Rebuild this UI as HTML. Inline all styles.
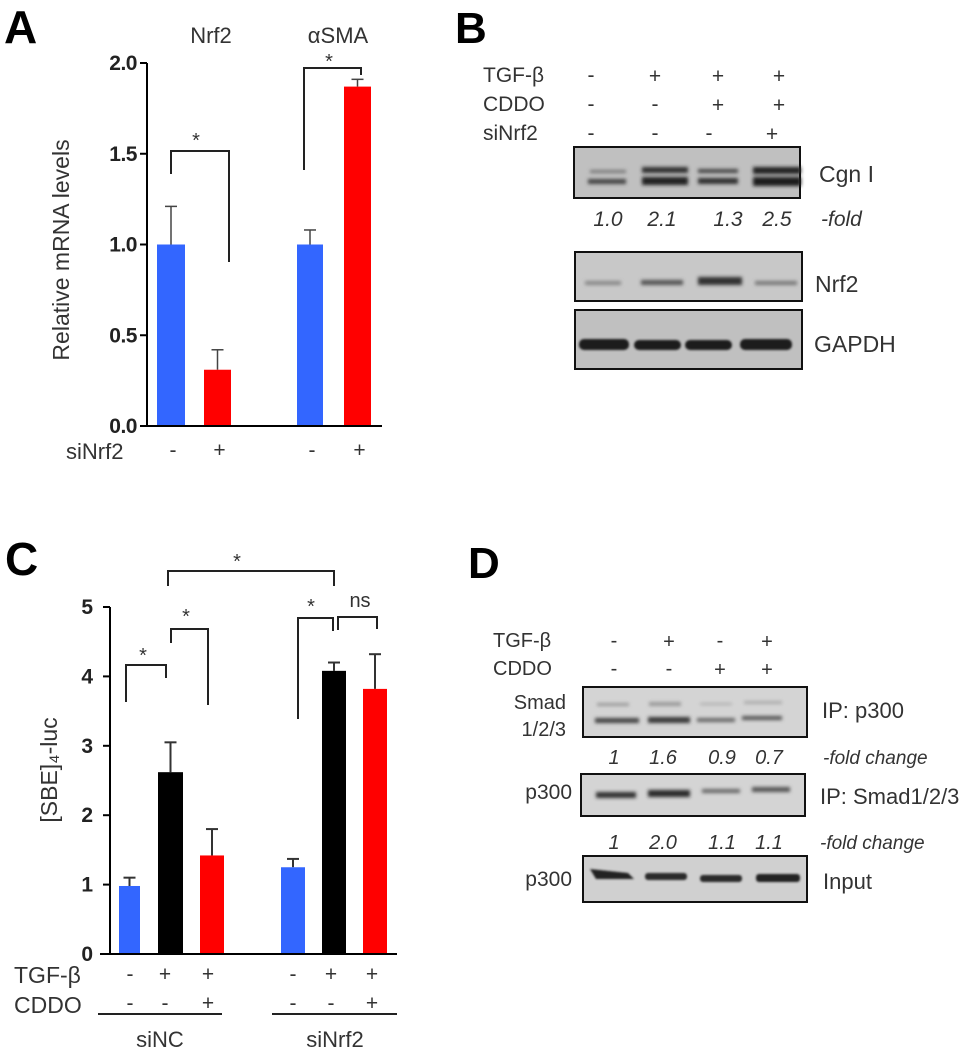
<!DOCTYPE html>
<html><head><meta charset="utf-8">
<style>
html,body{margin:0;padding:0;background:#fff;}
svg{display:block;font-family:"Liberation Sans",Arial,sans-serif;}
</style></head>
<body>
<svg id="fig" width="979" height="1050" viewBox="0 0 979 1050" xmlns="http://www.w3.org/2000/svg">
<defs>
<filter id="blur1" filterUnits="userSpaceOnUse" x="0" y="0" width="979" height="1050"><feGaussianBlur stdDeviation="1.8"/></filter>
<filter id="blur2" filterUnits="userSpaceOnUse" x="0" y="0" width="979" height="1050"><feGaussianBlur stdDeviation="1.1"/></filter>
</defs>

<text x="4" y="43" font-size="46" font-weight="bold" fill="#000">A</text>
<text x="455" y="43" font-size="44" font-weight="bold" fill="#000">B</text>
<text x="5" y="575" font-size="46" font-weight="bold" fill="#000">C</text>
<text x="468" y="578" font-size="44" font-weight="bold" fill="#000">D</text>

<g id="chartA"></g>
<g id="chartC"></g>

<!-- Panel B -->
<g id="panelB" font-size="21" fill="#333">
  <text x="483" y="82">TGF-β</text>
  <text x="483" y="111">CDDO</text>
  <text x="483" y="140">siNrf2</text>
  <g text-anchor="middle" font-size="21">
    <text x="591" y="82">-</text><text x="655" y="83">+</text><text x="718" y="83">+</text><text x="779" y="83">+</text>
    <text x="591" y="111">-</text><text x="655" y="111">-</text><text x="718" y="112">+</text><text x="779" y="112">+</text>
    <text x="591" y="140">-</text><text x="655" y="140">-</text><text x="709" y="140">-</text><text x="772" y="141">+</text>
  </g>
  <rect x="574" y="147" width="226" height="51" fill="#c0c0c0" stroke="#111" stroke-width="2"/>
  <g filter="url(#blur1)">
    <rect x="590" y="170" width="36" height="3" fill="#777"/>
    <rect x="588" y="179" width="38" height="5" fill="#444"/>
    <rect x="642" y="167" width="46" height="6" fill="#333"/>
    <rect x="642" y="177" width="46" height="8" fill="#222"/>
    <rect x="698" y="169" width="40" height="4" fill="#444"/>
    <rect x="698" y="178" width="40" height="6" fill="#333"/>
    <rect x="753" y="167" width="48" height="7" fill="#222"/>
    <rect x="753" y="177" width="48" height="9" fill="#1a1a1a"/>
  </g>
  <text x="819" y="182" font-size="23">Cgn I</text>
  <g font-size="21" font-style="italic" text-anchor="middle">
    <text x="608" y="226">1.0</text><text x="662" y="226">2.1</text><text x="728" y="226">1.3</text><text x="777" y="226">2.5</text>
  </g>
  <text x="821" y="226" font-size="21" font-style="italic">-fold</text>
  <rect x="575" y="252" width="227" height="49" fill="#c8c8c8" stroke="#111" stroke-width="2"/>
  <g filter="url(#blur1)">
    <rect x="585" y="281" width="36" height="4" fill="#888"/>
    <rect x="641" y="280" width="42" height="5" fill="#555"/>
    <rect x="698" y="277" width="44" height="8" fill="#333"/>
    <rect x="755" y="281" width="42" height="4" fill="#777"/>
  </g>
  <text x="815" y="292" font-size="23">Nrf2</text>
  <rect x="575" y="310" width="227" height="59" fill="#c0c0c0" stroke="#111" stroke-width="2"/>
  <g filter="url(#blur2)">
    <rect x="579" y="339" width="50" height="11" rx="5" fill="#1a1a1a"/>
    <rect x="634" y="340" width="47" height="10" rx="5" fill="#1e1e1e"/>
    <rect x="685" y="340" width="47" height="10" rx="5" fill="#1e1e1e"/>
    <rect x="740" y="339" width="52" height="11" rx="5" fill="#1a1a1a"/>
  </g>
  <text x="814" y="352" font-size="23">GAPDH</text>
</g>

<!-- Panel D -->
<g id="panelD" font-size="20" fill="#333">
  <text x="493" y="647">TGF-β</text>
  <text x="493" y="675">CDDO</text>
  <g text-anchor="middle" font-size="20">
    <text x="614" y="647">-</text><text x="669" y="648">+</text><text x="720" y="647">-</text><text x="767" y="648">+</text>
    <text x="614" y="675">-</text><text x="669" y="675">-</text><text x="720" y="676">+</text><text x="767" y="676">+</text>
  </g>
  <text x="566" y="709" text-anchor="end">Smad</text>
  <text x="566" y="736" text-anchor="end">1/2/3</text>
  <rect x="583" y="687" width="224" height="50" fill="#d4d4d4" stroke="#111" stroke-width="2"/>
  <g filter="url(#blur1)">
    <rect x="597" y="703" width="32" height="3" fill="#999"/>
    <rect x="649" y="702" width="32" height="4" fill="#999"/>
    <rect x="700" y="703" width="32" height="2" fill="#aaa"/>
    <rect x="744" y="701" width="38" height="3" fill="#aaa"/>
    <rect x="595" y="718" width="44" height="5" fill="#444"/>
    <rect x="648" y="717" width="42" height="6" fill="#3a3a3a"/>
    <rect x="697" y="718" width="38" height="4" fill="#666"/>
    <rect x="742" y="716" width="40" height="4" fill="#555"/>
  </g>
  <text x="822" y="718" font-size="22">IP:  p300</text>
  <g font-size="20" font-style="italic" text-anchor="middle">
    <text x="614" y="764">1</text><text x="663" y="764">1.6</text><text x="722" y="764">0.9</text><text x="769" y="764">0.7</text>
  </g>
  <text x="823" y="764" font-size="19" font-style="italic">-fold change</text>
  <text x="572" y="799" text-anchor="end" font-size="21">p300</text>
  <rect x="581" y="774" width="224" height="42" fill="#d4d4d4" stroke="#111" stroke-width="2"/>
  <g filter="url(#blur1)">
    <rect x="596" y="792" width="40" height="6" fill="#333"/>
    <rect x="648" y="790" width="42" height="7" fill="#2a2a2a"/>
    <rect x="702" y="789" width="38" height="4" fill="#666"/>
    <rect x="752" y="787" width="38" height="5" fill="#555"/>
  </g>
  <text x="820" y="804" font-size="22">IP:  Smad1/2/3</text>
  <g font-size="20" font-style="italic" text-anchor="middle">
    <text x="614" y="849">1</text><text x="663" y="849">2.0</text><text x="722" y="849">1.1</text><text x="769" y="849">1.1</text>
  </g>
  <text x="820" y="849" font-size="19" font-style="italic">-fold change</text>
  <text x="572" y="886" text-anchor="end" font-size="21">p300</text>
  <rect x="583" y="856" width="224" height="46" fill="#d0d0d0" stroke="#111" stroke-width="2"/>
  <g filter="url(#blur2)">
    <polygon points="590,869 628,873 634,879 596,879" fill="#222"/>
    <rect x="645" y="873" width="42" height="7" rx="3" fill="#2a2a2a"/>
    <rect x="700" y="875" width="42" height="7" rx="3" fill="#2a2a2a"/>
    <rect x="756" y="874" width="44" height="8" rx="3" fill="#222"/>
  </g>
  <text x="823" y="889" font-size="22">Input</text>
</g>

<script>
// ---- Panel A data ----
var aCategories = ["Nrf2 -", "Nrf2 +", "αSMA -", "αSMA +"];
var aValues = [1.0, 0.31, 1.0, 1.87];
var aErrors = [0.21, 0.11, 0.08, 0.04];
var aTicks = [0.0, 0.5, 1.0, 1.5, 2.0];
var aTickLabels = ["0.0", "0.5", "1.0", "1.5", "2.0"];
var aSigns = ["-", "+", "-", "+"];

// ---- Panel C data ----
var cCategories = ["siNC ctrl", "siNC TGF", "siNC TGF+CDDO", "siNrf2 ctrl", "siNrf2 TGF", "siNrf2 TGF+CDDO"];
var cValues = [0.98, 2.62, 1.42, 1.25, 4.08, 3.82];
var cErrors = [0.12, 0.43, 0.38, 0.12, 0.12, 0.50];
var cTicks = [0, 1, 2, 3, 4, 5];
var cTgfSigns = ["-", "+", "+", "-", "+", "+"];
var cCddoSigns = ["-", "-", "+", "-", "-", "+"];

var NS = "http://www.w3.org/2000/svg";
function mk(parent, tag, attrs, txt) {
  var e = document.createElementNS(NS, tag);
  for (var k in attrs) e.setAttribute(k, attrs[k]);
  if (txt !== undefined) e.textContent = txt;
  parent.appendChild(e);
  return e;
}

// ---- Draw A ----
(function () {
  var g = document.getElementById("chartA");
  var y0 = 426, pxPerUnit = 181.5;
  function ya(v) { return y0 - v * pxPerUnit; }
  var barX = [157, 204, 297, 344], barW = [28, 27, 26, 27];
  var colors = ["#3366ff", "#ff0000", "#3366ff", "#ff0000"];
  var ax = mk(g, "line", {x1: 147, y1: ya(2.0), x2: 147, y2: y0, stroke: "#000", "stroke-width": 2});
  
  
  for (var i = 0; i < aTicks.length; i++) {
    mk(g, "line", {x1: 140, y1: ya(aTicks[i]), x2: 147, y2: ya(aTicks[i]), stroke: "#000", "stroke-width": 2});
    var t = mk(g, "text", {x: 137, y: ya(aTicks[i]) + 7, "text-anchor": "end", "font-size": 21, "font-weight": "bold", "letter-spacing": "-0.5", fill: "#222"}, aTickLabels[i]);
    
    
  }
  for (var j = 0; j < aValues.length; j++) {
    var cx = barX[j] + barW[j] / 2, top = ya(aValues[j] + aErrors[j]);
    mk(g, "line", {x1: cx, y1: ya(aValues[j]), x2: cx, y2: top, stroke: "#444", "stroke-width": 1.5});
    mk(g, "line", {x1: cx - 6, y1: top, x2: cx + 6, y2: top, stroke: "#444", "stroke-width": 1.5});
    var r = mk(g, "rect", {x: barX[j], y: ya(aValues[j]), width: barW[j], height: y0 - ya(aValues[j]), fill: colors[j]});
    
    
    var s = mk(g, "text", {x: cx + 2, y: 457, "text-anchor": "middle", "font-size": 21, fill: "#333"}, aSigns[j]);
    
    
  }
  var xa = mk(g, "line", {x1: 147, y1: y0, x2: 382, y2: y0, stroke: "#000", "stroke-width": 2});
  
  
  var yt = mk(g, "text", {x: 0, y: 0, transform: "translate(69,250) rotate(-90)", "text-anchor": "middle", "font-size": 23, fill: "#333"}, "Relative mRNA levels");
  
  
  var sl = mk(g, "text", {x: 66, y: 459, "font-size": 22, fill: "#333"}, "siNrf2");
  
  
  var h1 = mk(g, "text", {x: 211, y: 43, "text-anchor": "middle", "font-size": 22, fill: "#333"}, "Nrf2");
  
  
  var h2 = mk(g, "text", {x: 338, y: 43, "text-anchor": "middle", "font-size": 22, fill: "#333"}, "αSMA");
  
  
  var b1 = mk(g, "polyline", {points: "171,174 171,151 229,151 229,262", fill: "none", stroke: "#222", "stroke-width": 2});
  
  
  mk(g, "text", {x: 196, y: 147, "text-anchor": "middle", "font-size": 20, fill: "#333"}, "*");
  var b2 = mk(g, "polyline", {points: "304,170 304,68 361,68 361,75", fill: "none", stroke: "#222", "stroke-width": 2});
  
  
  mk(g, "text", {x: 329, y: 68, "text-anchor": "middle", "font-size": 20, fill: "#333"}, "*");
})();

// ---- Draw C ----
(function () {
  var g = document.getElementById("chartC");
  var y0 = 954, pxPerUnit = 69.4;
  function yc(v) { return y0 - v * pxPerUnit; }
  var barX = [119, 158, 200, 281, 322, 363], barW = [21, 25, 24, 24, 24, 24];
  var colors = ["#3366ff", "#000000", "#ff0000", "#3366ff", "#000000", "#ff0000"];
  var signX = [130, 165, 208, 293, 331, 372];
  var ax = mk(g, "line", {x1: 110, y1: yc(5), x2: 110, y2: y0, stroke: "#000", "stroke-width": 2});
  
  
  for (var i = 0; i < cTicks.length; i++) {
    mk(g, "line", {x1: 103, y1: yc(cTicks[i]), x2: 110, y2: yc(cTicks[i]), stroke: "#000", "stroke-width": 2});
    var t = mk(g, "text", {x: 93, y: yc(cTicks[i]) + 7, "text-anchor": "end", "font-size": 21, "font-weight": "bold", fill: "#222"}, String(cTicks[i]));
    
    
  }
  for (var j = 0; j < cValues.length; j++) {
    var cx = barX[j] + barW[j] / 2, top = yc(cValues[j] + cErrors[j]);
    mk(g, "line", {x1: cx, y1: yc(cValues[j]), x2: cx, y2: top, stroke: "#333", "stroke-width": 2});
    mk(g, "line", {x1: cx - 6, y1: top, x2: cx + 6, y2: top, stroke: "#333", "stroke-width": 2});
    var r = mk(g, "rect", {x: barX[j], y: yc(cValues[j]), width: barW[j], height: y0 - yc(cValues[j]), fill: colors[j]});
    
    
    var s1 = mk(g, "text", {x: signX[j], y: 981, "text-anchor": "middle", "font-size": 21, fill: "#333"}, cTgfSigns[j]);
    
    
    var s2 = mk(g, "text", {x: signX[j], y: 1010, "text-anchor": "middle", "font-size": 21, fill: "#333"}, cCddoSigns[j]);
    
    
  }
  var xa = mk(g, "line", {x1: 100, y1: y0, x2: 397, y2: y0, stroke: "#000", "stroke-width": 2});
  
  
  var yt = mk(g, "text", {x: 0, y: 0, transform: "translate(57,770) rotate(-90)", "text-anchor": "middle", "font-size": 23, fill: "#333"}, "[SBE]\u2084-luc");
  
  
  var l1 = mk(g, "text", {x: 14, y: 983, "font-size": 23, fill: "#333"}, "TGF-β");
  
  
  var l2 = mk(g, "text", {x: 14, y: 1013, "font-size": 23, fill: "#333"}, "CDDO");
  
  
  mk(g, "line", {x1: 98, y1: 1014, x2: 222, y2: 1014, stroke: "#222", "stroke-width": 2});
  mk(g, "line", {x1: 272, y1: 1014, x2: 397, y2: 1014, stroke: "#222", "stroke-width": 2});
  var g1 = mk(g, "text", {x: 160, y: 1047, "text-anchor": "middle", "font-size": 22, fill: "#333"}, "siNC");
  
  
  var g2 = mk(g, "text", {x: 335, y: 1047, "text-anchor": "middle", "font-size": 22, fill: "#333"}, "siNrf2");
  
  
  var brackets = [
    ["126,702 126,665 166,665 166,678", 143, 662, "*"],
    ["171,643 171,629 208,629 208,705", 186, 623, "*"],
    ["168,586 168,571 334,571 334,586", 237, 568, "*"],
    ["298,719 298,618 333,618 333,631", 311, 613, "*"],
    ["338,630 338,617 377,617 377,629", 360, 607, "ns"]
  ];
  for (var b = 0; b < brackets.length; b++) {
    var p = mk(g, "polyline", {points: brackets[b][0], fill: "none", stroke: "#222", "stroke-width": 2});
    
    
    mk(g, "text", {x: brackets[b][1], y: brackets[b][2], "text-anchor": "middle", "font-size": 20, fill: "#333"}, brackets[b][3]);
  }
})();
</script>
</svg>
</body></html>
